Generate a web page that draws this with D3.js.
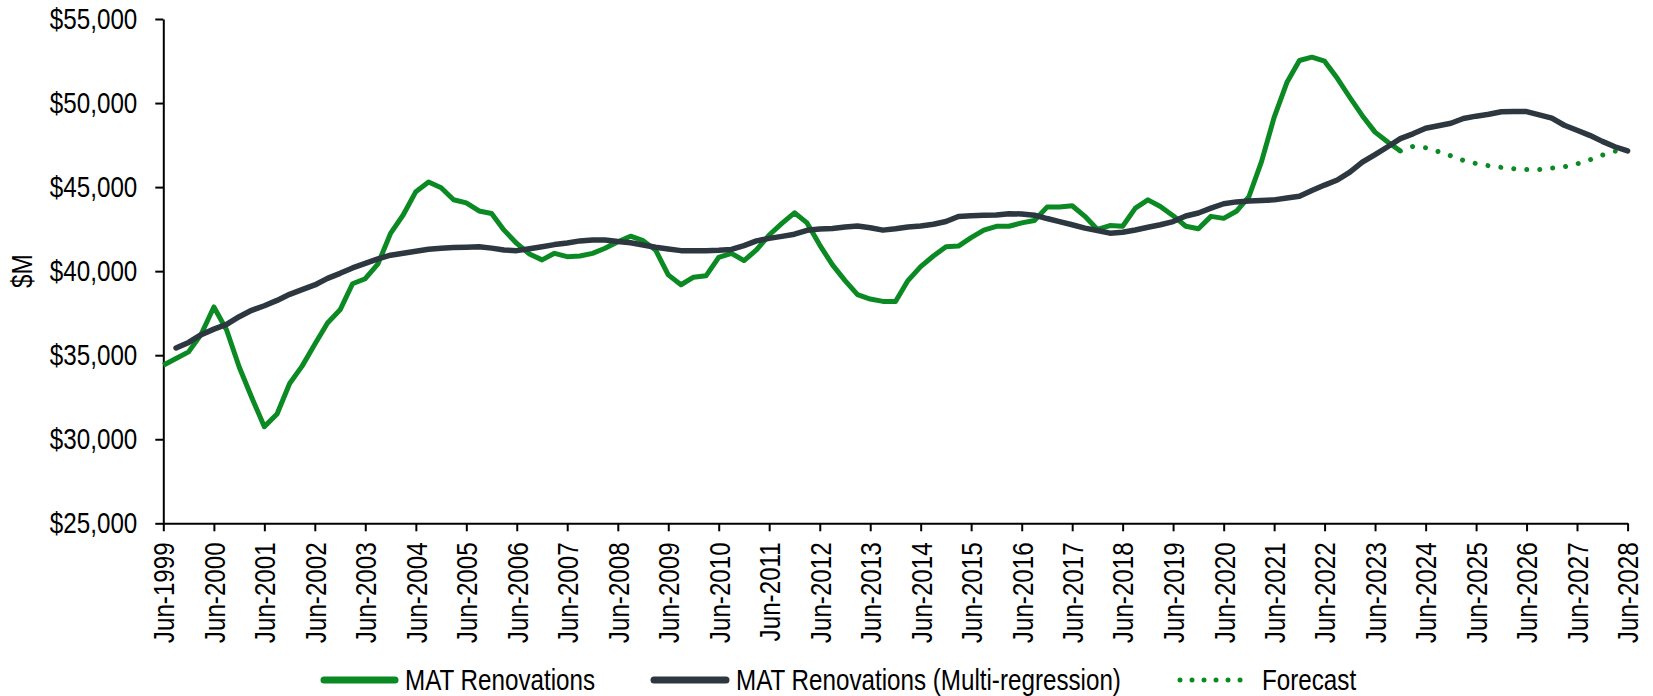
<!DOCTYPE html>
<html>
<head>
<meta charset="utf-8">
<script src="https://cdnjs.cloudflare.com/ajax/libs/d3/7.8.5/d3.min.js"></script>
<style>
  body { margin: 0; background: #fff; }
  svg text { font-family: "Liberation Sans Narrow", "Arial Narrow", "Liberation Sans", Arial, sans-serif; fill: #000; }
</style>
</head>
<body>
<svg id="chart"></svg>
<script>
// quarterly series (Jun, Sep, Dec, Mar ...), values in $M
const renovationsStart = "1999-06";
const renovations = [
  34400, 34800, 35200, 36250, 37870, 36500, 34300, 32500, 30750, 31500,
  33320, 34350, 35650, 36920, 37700, 39250, 39550, 40430, 42250, 43340,
  44730, 45300, 44960, 44250, 44060, 43580, 43430, 42440, 41650, 41020,
  40670, 41060, 40860, 40900, 41060, 41360, 41750, 42080, 41810, 41260,
  39780, 39190, 39640, 39720, 40820, 41060, 40630, 41260, 42150, 42840,
  43470, 42870, 41550, 40370, 39440, 38600, 38340, 38200, 38200, 39440,
  40270, 40900, 41450, 41490, 41990, 42440, 42670, 42670, 42870, 43010,
  43810, 43810, 43890, 43260, 42480, 42710, 42670, 43750, 44240, 43850,
  43300, 42670, 42520, 43260, 43140, 43560, 44440, 46500, 49150, 51220,
  52530, 52730, 52490, 51470, 50330, 49250, 48270, 47680, 47150
];

const regressionStart = "1999-09";
const regression = [
  35430, 35760, 36220, 36550, 36830, 37290, 37670, 37940, 38260, 38620,
  38900, 39180, 39570, 39870, 40190, 40460, 40730, 40950, 41070, 41180,
  41300, 41360, 41400, 41420, 41450, 41370, 41260, 41220, 41330, 41450,
  41580, 41680, 41800, 41850, 41850, 41760, 41690, 41560, 41420, 41320,
  41220, 41220, 41220, 41240, 41290, 41520, 41800, 41950, 42070, 42200,
  42430, 42510, 42540, 42630, 42680, 42580, 42440, 42520, 42630, 42690,
  42790, 42950, 43250, 43300, 43320, 43340, 43420, 43400, 43330, 43130,
  42950, 42760, 42560, 42420, 42260, 42310, 42450, 42610, 42760, 42950,
  43280, 43460, 43750, 44010, 44120, 44170, 44210, 44240, 44350, 44460,
  44800, 45120, 45420, 45890, 46480, 46930, 47400, 47880, 48170, 48500,
  48650, 48800, 49080, 49220, 49330, 49480, 49490, 49490, 49300, 49100,
  48680, 48380, 48080, 47720, 47400, 47150
];

const forecastStart = "2023-12";
const forecast = [
  47150, 47420, 47340, 47110, 46860, 46590, 46400, 46270, 46170, 46090,
  46040, 46040, 46130, 46210, 46380, 46620, 46900, 47130, 47150
];

const yTicks = [25000, 30000, 35000, 40000, 45000, 50000, 55000];
const tickYears = d3.range(1999, 2029);
const legendLabels = ["MAT Renovations", "MAT Renovations (Multi-regression)", "Forecast"];

// layout
const width = 1653;
const height = 696;
const plotLeft = 163.3;
const plotRight = 1627.6;
const plotTop = 19;
const plotBottom = 523.3;
const fontSize = 29.5;
const green = "#0b8a24";
const dark = "#2d3740";

const parseMonth = d3.timeParse("%Y-%m");
const toPoints = (start, values) => {
  const d0 = parseMonth(start);
  return values.map((v, i) => ({ date: d3.timeMonth.offset(d0, 3 * i), value: v }));
};

const svg = d3.select("#chart").attr("width", width).attr("height", height);

// is a narrow face installed?
const probe = svg.append("text").attr("x", -999).attr("y", -999).style("font-size", "40px").text("Jun-1999 MAT");
const wNarrow = probe.node().getComputedTextLength();
probe.style("font-family", "'Liberation Sans', Arial, sans-serif");
const wWide = probe.node().getComputedTextLength();
probe.remove();
const hasNarrow = wNarrow / wWide < 0.9;

const narrowify = (sel) => {
  if (hasNarrow) return;
  sel.each(function () {
    const w = this.getComputedTextLength();
    d3.select(this).attr("textLength", w * 0.82).attr("lengthAdjust", "spacingAndGlyphs");
  });
};

const xScale = d3
  .scaleTime()
  .domain([parseMonth("1999-06"), parseMonth("2028-06")])
  .range([plotLeft, plotRight]);

const yScale = d3.scaleLinear().domain([25000, 55000]).range([plotBottom, plotTop]);

// axes
const yAxis = d3
  .axisLeft(yScale)
  .tickValues(yTicks)
  .tickSize(8)
  .tickSizeOuter(0)
  .tickPadding(18)
  .tickFormat(d3.format("$,"));

const gy = svg.append("g").attr("transform", "translate(" + plotLeft + ",0)").call(yAxis);

const xAxis = d3
  .axisBottom(xScale)
  .tickValues(tickYears.map((y) => parseMonth(y + "-06")))
  .tickSize(8)
  .tickSizeOuter(0)
  .tickFormat(d3.timeFormat("%b-%Y"));

const gx = svg.append("g").attr("transform", "translate(0," + plotBottom + ")").call(xAxis);

[gx, gy].forEach((g) => {
  g.attr("font-family", null).attr("font-size", null);
  g.select(".domain").attr("stroke", "#000").attr("stroke-width", 2);
  g.selectAll(".tick line").attr("stroke", "#000").attr("stroke-width", 2);
  g.selectAll("text").attr("fill", "#000").style("font-size", fontSize + "px");
});

gx.selectAll(".tick text")
  .attr("transform", "rotate(-90)")
  .attr("text-anchor", "end")
  .attr("x", -19)
  .attr("y", 0)
  .attr("dy", "0.35em");

narrowify(gy.selectAll(".tick text"));
narrowify(gx.selectAll(".tick text"));

const yTitle = svg
  .append("text")
  .attr("transform", "translate(22," + (plotTop + plotBottom) / 2 + ") rotate(-90)")
  .attr("text-anchor", "middle")
  .attr("dy", "0.35em")
  .style("font-size", fontSize + "px")
  .text("$M");
narrowify(yTitle);

// lines
const line = d3
  .line()
  .x((d) => xScale(d.date))
  .y((d) => yScale(d.value));

svg.append("path")
  .datum(toPoints(forecastStart, forecast))
  .attr("fill", "none")
  .attr("stroke", green)
  .attr("stroke-width", 5)
  .attr("stroke-linecap", "round")
  .attr("stroke-dasharray", "0.01 13")
  .attr("d", line);

svg.append("path")
  .datum(toPoints(renovationsStart, renovations))
  .attr("fill", "none")
  .attr("stroke", green)
  .attr("stroke-width", 5)
  .attr("stroke-linejoin", "round")
  .attr("d", line);

svg.append("path")
  .datum(toPoints(regressionStart, regression))
  .attr("fill", "none")
  .attr("stroke", dark)
  .attr("stroke-width", 5.5)
  .attr("stroke-linejoin", "round")
  .attr("stroke-linecap", "round")
  .attr("d", line);

// legend
const legendY = 680;
const legendItems = [
  { label: legendLabels[0], x0: 324, x1: 395, color: green, dash: null },
  { label: legendLabels[1], x0: 654, x1: 726, color: dark, dash: null },
  { label: legendLabels[2], x0: 1180, x1: 1252, color: green, dash: "0.01 12" },
];

const legend = svg.append("g");
legendItems.forEach((item) => {
  legend.append("line")
    .attr("x1", item.x0)
    .attr("x2", item.x1)
    .attr("y1", legendY)
    .attr("y2", legendY)
    .attr("stroke", item.color)
    .attr("stroke-width", item.dash ? 5 : 7)
    .attr("stroke-linecap", "round")
    .attr("stroke-dasharray", item.dash);
  const t = legend.append("text")
    .attr("x", item.x1 + 10)
    .attr("y", legendY)
    .attr("dy", "0.35em")
    .style("font-size", fontSize + "px")
    .text(item.label);
  narrowify(t);
});
</script>
</body>
</html>
